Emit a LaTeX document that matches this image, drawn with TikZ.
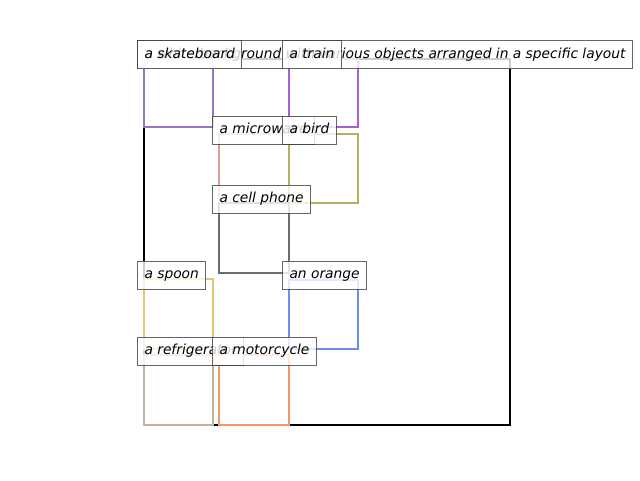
\documentclass[tikz,border=0pt]{standalone}
\usepackage{fontspec}
\newfontfamily\lblfont{DejaVu Sans}
\usepackage{tikz}
\usetikzlibrary{positioning}

\definecolor{skatecol}{RGB}{152,118,198}
\definecolor{traincol}{RGB}{165,96,216}
\definecolor{microcol}{RGB}{218,160,150}
\definecolor{birdcol}{RGB}{180,175,95}
\definecolor{phonecol}{RGB}{100,110,118}
\definecolor{spooncol}{RGB}{228,200,110}
\definecolor{orangecol}{RGB}{110,140,240}
\definecolor{fridgecol}{RGB}{196,178,158}
\definecolor{motocol}{RGB}{238,155,105}

\begin{document}
\begin{tikzpicture}[x=1pt,y=-1pt]
                    \tikzstyle{objbox}=[line width=2.4pt]
                    \tikzstyle{lbl}=[anchor=west, draw=black!75, line width=1pt, draw opacity=0.8, fill=white, fill opacity=0.8, text opacity=1,
                      font=\lblfont\itshape\fontsize{13.8}{16}\selectfont, inner xsep=7pt, inner ysep=0pt,
                      minimum height=28pt, text height=10.6pt, text depth=3.3pt]
                    \useasboundingbox (0,0) rectangle (640,480);
                    % whole scene
                    \draw [black, line width=2.8pt] (144,59) rectangle (510,425);
                    % objects
                    \draw [objbox, skatecol] (144,59) rectangle (213,127);
                    \draw [objbox, traincol] (289,59) rectangle (358,127);
                    \draw [objbox, microcol] (219,134) rectangle (289,203);
                    \draw [objbox, birdcol] (289,134) rectangle (358,203);
                    \draw [objbox, phonecol] (219,203) rectangle (289,273);
                    \draw [objbox, spooncol] (144,279) rectangle (213,349);
                    \draw [objbox, orangecol] (289,280) rectangle (358,349);
                    \draw [objbox, fridgecol] (144,355) rectangle (213,425);
                    \draw [objbox, motocol] (219,355) rectangle (289,425);
                    % labels
                    \node [lbl] (scene) at (137,54.5) {a white background with various objects arranged in a specific layout};
                    \node [lbl] (skateboard) at (137,54.5) {a skateboard};
                    \node [lbl] (train) at (282,54.5) {a train};
                    \node [lbl] (microwave) at (212,130) {a microwave};
                    \node [lbl] (bird) at (282,130) {a bird};
                    \node [lbl] (phone) at (212,199) {a cell phone};
                    \node [lbl] (spoon) at (137,275) {a spoon};
                    \node [lbl] (orange) at (282,275) {an orange};
                    \node [lbl] (fridge) at (137,351) {a refrigerator};
                    \node [lbl] (motorcycle) at (212,351) {a motorcycle};
                \end{tikzpicture}
\end{document}
